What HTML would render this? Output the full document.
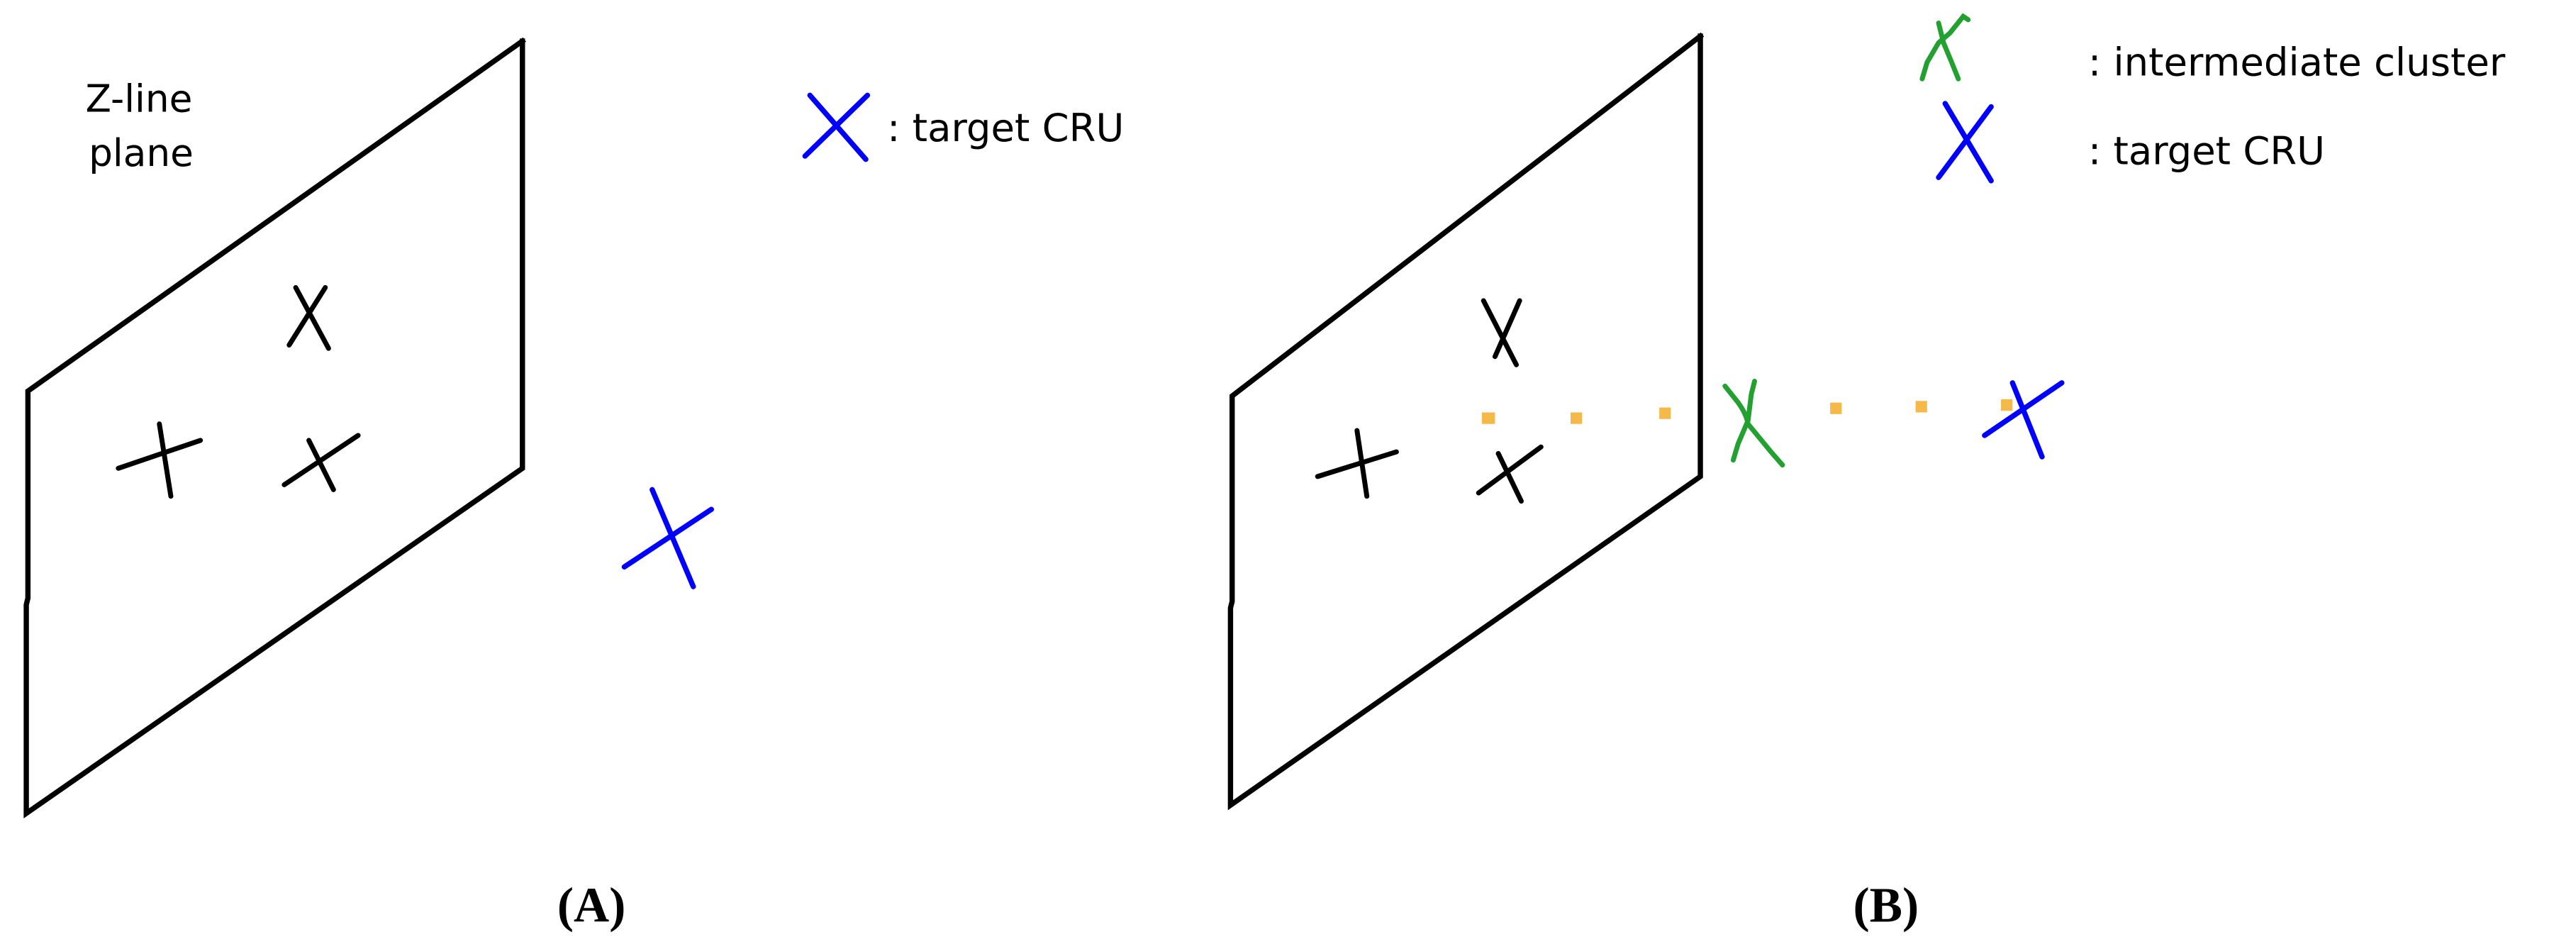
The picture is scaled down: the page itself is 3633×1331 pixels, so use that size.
<!DOCTYPE html>
<html><head><meta charset="utf-8"><style>
html,body{margin:0;padding:0;background:#fff;}
svg{display:block;}
text{font-family:"DejaVu Sans","Liberation Sans",sans-serif;}
.cap{font-family:"Liberation Serif",serif;font-weight:bold;}
</style></head><body>
<svg width="3633" height="1331" viewBox="0 0 1568 574.5" preserveAspectRatio="none" xmlns="http://www.w3.org/2000/svg">
<g fill="none" stroke="#000" stroke-width="3.2" stroke-linecap="square">
<polyline points="318,25 318,285 16,495 16,368 17,364 17,238 318,25"/>
<polyline points="1035,22 1035,290 749,490 749,370 750,366 750,241 1035,22"/>
</g>
<g fill="none" stroke="#000" stroke-width="3" stroke-linecap="round">
<path d="M180,175 L200,212 M198,175 L176,210"/>
<path d="M72,285 L122,268 M97,258 L104,302"/>
<path d="M173,295 L218,265 M188,268 L203,298"/>
<path d="M903,183 L923,222 M925,183 L910,217"/>
<path d="M802,290 L850,275 M826,262 L832,302"/>
<path d="M900,300 L938,272 M912,276 L926,305"/>
</g>
<g fill="none" stroke="#0000ff" stroke-width="3.2" stroke-linecap="round">
<path d="M380,345 L433,310 M397,298 L422,357"/>
<path d="M490,95 L528,58 M493,58 L527,97"/>
<path d="M1208,265 L1255,233 M1225,233 L1243,278"/>
<path d="M1180,108 L1212,65 M1184,63 L1212,110"/>
</g>
<g fill="none" stroke="#22a030" stroke-width="3" stroke-linecap="round">
<path d="M1050,235 L1058,245 Q1063,252 1064,258 L1078,275 L1085,283 M1068,232 L1066,240 L1064,256 L1058,270 L1055,280"/>
<path d="M1170,48 L1173,38 L1180,26 L1187,20 L1195,10 L1198,12 M1180,14 L1183,26 L1188,38 L1192,48"/>
</g>
<g fill="#f5b94a">
<rect x="902" y="251" width="8" height="7"/><rect x="956" y="251" width="7" height="7"/><rect x="1010" y="248" width="7" height="7"/>
<rect x="1114" y="245" width="7" height="7"/><rect x="1166" y="244" width="7" height="7"/><rect x="1218" y="243" width="7" height="7"/>
</g>
<g fill="#000" font-size="23.5">
<text x="52" y="68" font-size="23">Z-line</text>
<text x="54" y="101" font-size="23">plane</text>
<text x="540" y="86">: target CRU</text>
<text x="1271" y="46">: intermediate cluster</text>
<text x="1271" y="100">: target CRU</text>
</g>
<text class="cap" x="360" y="561" font-size="30" text-anchor="middle">(A)</text>
<text class="cap" x="1148" y="561" font-size="30" text-anchor="middle">(B)</text>
</svg>
</body></html>
